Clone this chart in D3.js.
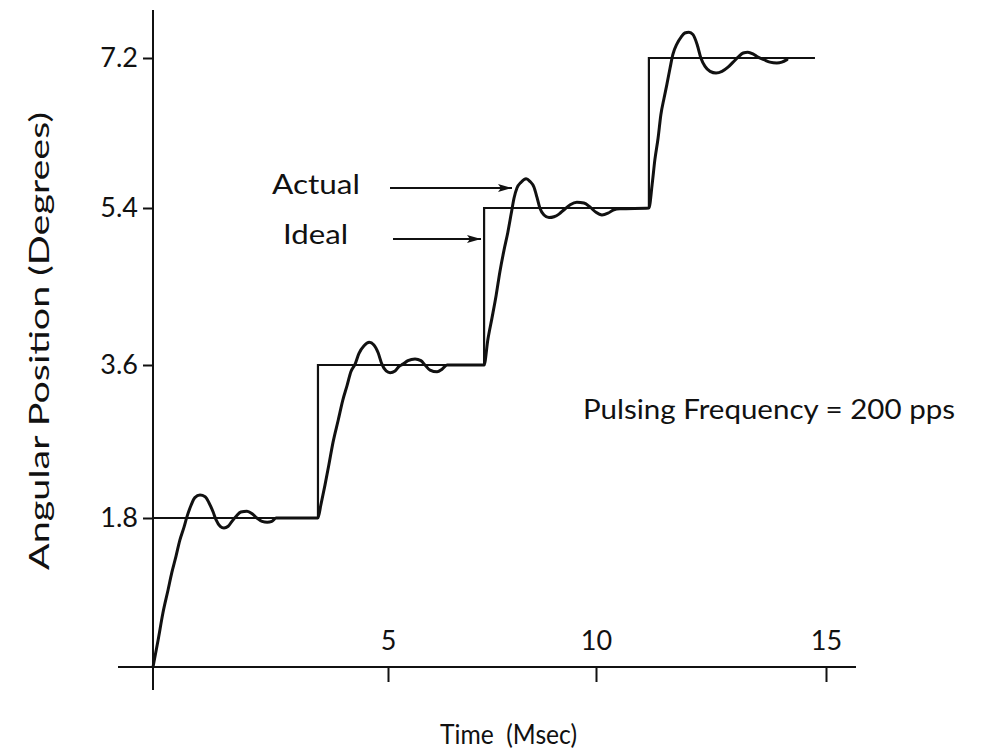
<!DOCTYPE html>
<html>
<head>
<meta charset="utf-8">
<script src="https://cdn.jsdelivr.net/npm/d3@7"></script>
<style>
  html, body { margin: 0; padding: 0; background: #fff; }
  svg { display: block; }
  text { font-family: Lato, "Noto Sans", sans-serif; font-weight: 400; fill: #111; }
</style>
</head>
<body>
<svg id="chart" width="987" height="752"></svg>
<script>
// ---- data ----
const timeTicks = [5, 10, 15];                 // Msec
const angleTicks = [1.8, 3.6, 5.4, 7.2];       // Degrees

// Ideal stepping position (step after each time)
const idealTime  = [0, 3.51, 7.31, 11.15, 14.76];
const idealAngle = [1.8, 3.6, 5.4, 7.2, 7.2];

// Actual rotor position
const actualTime = [
  0,0.11,0.21,0.32,0.40,0.49,0.57,0.66,0.72,0.81,0.89,1.00,1.11,1.19,1.28,1.34,1.43,1.51,1.60,1.68,1.77,1.87,2.00,2.11,2.21,2.32,2.43,2.53,2.62,3.51,
  3.57,3.66,3.74,3.83,3.94,4.04,4.13,4.21,4.30,4.38,4.49,4.60,4.70,4.79,4.87,4.96,5.05,5.17,5.26,5.36,5.48,5.65,5.79,5.89,6.01,6.18,6.30,6.42,7.31,
  7.40,7.50,7.60,7.69,7.79,7.88,7.96,8.03,8.10,8.20,8.32,8.41,8.51,8.58,8.65,8.75,8.87,8.99,9.11,9.23,9.38,9.54,9.71,9.86,10.00,10.13,10.26,10.39,10.52,11.15,
  11.22,11.28,11.35,11.41,11.48,11.54,11.61,11.67,11.76,11.85,11.93,12.02,12.11,12.20,12.28,12.37,12.48,12.61,12.74,12.87,12.98,13.09,13.20,13.30,13.41,13.52,13.65,13.78,13.93,14.04,14.15
];
const actualAngle = [
  0,0.33,0.65,0.93,1.14,1.34,1.53,1.69,1.81,1.95,2.04,2.07,2.05,1.98,1.87,1.78,1.70,1.68,1.70,1.76,1.82,1.87,1.88,1.85,1.80,1.76,1.75,1.76,1.80,1.80,
  1.95,2.19,2.42,2.69,2.95,3.19,3.36,3.52,3.61,3.73,3.82,3.86,3.83,3.74,3.61,3.53,3.51,3.53,3.58,3.61,3.65,3.67,3.65,3.60,3.54,3.52,3.55,3.60,3.60,
  3.89,4.14,4.40,4.67,4.92,5.12,5.33,5.52,5.64,5.71,5.75,5.72,5.65,5.53,5.40,5.32,5.29,5.30,5.33,5.38,5.44,5.47,5.46,5.41,5.35,5.32,5.34,5.38,5.39,5.40,
  5.68,5.98,6.24,6.52,6.72,6.88,7.08,7.24,7.37,7.45,7.50,7.51,7.48,7.36,7.20,7.10,7.04,7.02,7.04,7.09,7.15,7.21,7.26,7.27,7.25,7.21,7.18,7.15,7.14,7.15,7.18
];

const xTitle = "Time  (Msec)";
const yTitle = "Angular Position (Degrees)";
const note = "Pulsing Frequency = 200 pps";

// ---- scales (hand-drawn original: piecewise linear) ----
const x = d3.scaleLinear().domain([0, 5, 10, 15]).range([153, 388, 596, 826]);
const y = d3.scaleLinear().domain([0, 1.8, 3.6, 5.4, 7.2]).range([667, 518, 365, 208, 58]);

const svg = d3.select("#chart");

// arrow marker
svg.append("defs").append("marker")
  .attr("id", "arrow").attr("viewBox", "0 0 14 10")
  .attr("refX", 14).attr("refY", 5)
  .attr("markerWidth", 14).attr("markerHeight", 10)
  .attr("markerUnits", "userSpaceOnUse").attr("orient", "auto")
  .append("path").attr("d", "M0,1 L14,5 L0,9 L3,5 Z").attr("fill", "#111");

// ---- axes ----
const gx = svg.append("g").attr("transform", `translate(0,${y(0)})`)
  .call(d3.axisBottom(x).tickValues(timeTicks).tickSize(15).tickPadding(0));
gx.select(".domain").remove();
gx.selectAll(".tick line").attr("stroke", "#111").attr("stroke-width", 2);
gx.selectAll(".tick text").attr("y", -17).attr("dy", 0)
  .attr("font-size", 27).attr("font-family", "Lato, sans-serif").attr("font-weight", 400).attr("fill", "#111");
svg.append("line").attr("x1", 118).attr("x2", 856).attr("y1", y(0)).attr("y2", y(0))
  .attr("stroke", "#111").attr("stroke-width", 2);

const gy = svg.append("g").attr("transform", `translate(${x(0)},0)`)
  .call(d3.axisLeft(y).tickValues(angleTicks).tickFormat(d3.format(".1f")).tickSize(10).tickPadding(5));
gy.select(".domain").remove();
gy.selectAll(".tick line").attr("stroke", "#111").attr("stroke-width", 2);
gy.selectAll(".tick text").attr("font-size", 27).attr("font-family", "Lato, sans-serif").attr("font-weight", 400).attr("fill", "#111");
svg.append("line").attr("x1", x(0)).attr("x2", x(0)).attr("y1", 10).attr("y2", 690)
  .attr("stroke", "#111").attr("stroke-width", 2);

// ---- ideal step line ----
const idealData = idealTime.map((t, i) => [t, idealAngle[i]]);
svg.append("path").datum(idealData)
  .attr("d", d3.line().x(d => x(d[0])).y(d => y(d[1])).curve(d3.curveStepAfter))
  .attr("fill", "none").attr("stroke", "#111").attr("stroke-width", 2.2);

// ---- actual response ----
const actualData = actualTime.map((t, i) => [t, actualAngle[i]]);
svg.append("path").datum(actualData)
  .attr("d", d3.line().x(d => x(d[0])).y(d => y(d[1])).curve(d3.curveMonotoneX))
  .attr("fill", "none").attr("stroke", "#111").attr("stroke-width", 3)
  .attr("stroke-linejoin", "round").attr("stroke-linecap", "round");

// ---- annotations ----
svg.append("text").attr("x", 272).attr("y", 194)
  .attr("font-size", 27).attr("textLength", 88).attr("lengthAdjust", "spacingAndGlyphs").text("Actual");
svg.append("line").attr("x1", 390).attr("x2", 512).attr("y1", 188).attr("y2", 188)
  .attr("stroke", "#111").attr("stroke-width", 2).attr("marker-end", "url(#arrow)");
svg.append("text").attr("x", 283).attr("y", 244)
  .attr("font-size", 27).attr("textLength", 65).attr("lengthAdjust", "spacingAndGlyphs").text("Ideal");
svg.append("line").attr("x1", 393).attr("x2", 481).attr("y1", 239).attr("y2", 239)
  .attr("stroke", "#111").attr("stroke-width", 2).attr("marker-end", "url(#arrow)");

svg.append("text").attr("x", 583).attr("y", 419).attr("font-size", 26)
  .attr("textLength", 372).attr("lengthAdjust", "spacingAndGlyphs").text(note);

// ---- titles ----
svg.append("text").attr("x", 440).attr("y", 744)
  .attr("font-size", 26).attr("textLength", 137).attr("lengthAdjust", "spacingAndGlyphs")
  .style("white-space", "pre").text(xTitle);
svg.append("text").attr("transform", "translate(49,570) rotate(-90)")
  .attr("font-size", 26).attr("textLength", 458).attr("lengthAdjust", "spacingAndGlyphs").text(yTitle);
</script>
</body>
</html>
